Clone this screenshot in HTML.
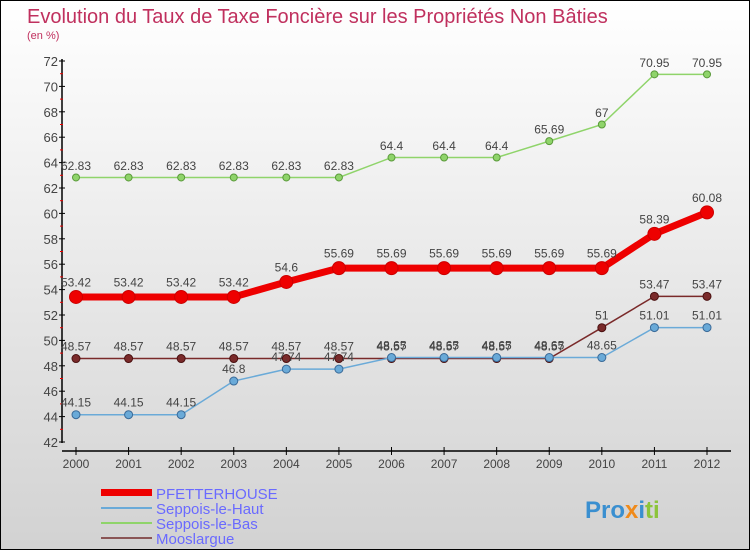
<!DOCTYPE html>
<html><head><meta charset="utf-8"><style>
body{margin:0}
#c{width:748px;height:548px;border:1px solid #000;background:linear-gradient(#ffffff,#d2d2d2);position:relative;font-family:"Liberation Sans",sans-serif;overflow:hidden}
</style></head><body>
<div id="c">
<svg id="s" width="748" height="548" xmlns="http://www.w3.org/2000/svg">
<text x="26" y="22" font-size="20" fill="#c0305e">Evolution du Taux de Taxe Foncière sur les Propriétés Non Bâties</text>
<text x="26" y="38" font-size="11" fill="#c0305e">(en %)</text>
<g id="g"></g>
<g>
<rect x="100" y="488" width="51" height="7" fill="#e00"/>
<text x="155" y="498" font-size="15" fill="#6a6aff">PFETTERHOUSE</text>
<rect x="100" y="506" width="51" height="2" fill="#6aaad8"/>
<text x="155" y="513" font-size="15" fill="#6a6aff">Seppois-le-Haut</text>
<rect x="100" y="521" width="51" height="2" fill="#8fd46a"/>
<text x="155" y="528" font-size="15" fill="#6a6aff">Seppois-le-Bas</text>
<rect x="100" y="536" width="51" height="2" fill="#8a5555"/>
<text x="155" y="543" font-size="15" fill="#6a6aff">Mooslargue</text>
</g>
<text x="584" y="517" font-size="24" font-weight="bold"><tspan fill="#3a8fd0">Pro</tspan><tspan fill="#f08a1a">x</tspan><tspan fill="#3a8fd0">i</tspan><tspan fill="#8cc43a">ti</tspan></text>
</svg>
</div>
<script>
const years=[2000,2001,2002,2003,2004,2005,2006,2007,2008,2009,2010,2011,2012];
const yTicks=[42,44,46,48,50,52,54,56,58,60,62,64,66,68,70,72];
const pfetterhouse=[53.42,53.42,53.42,53.42,54.6,55.69,55.69,55.69,55.69,55.69,55.69,58.39,60.08];
const seppoisHaut=[44.15,44.15,44.15,46.8,47.74,47.74,48.65,48.65,48.65,48.65,48.65,51.01,51.01];
const seppoisBas=[62.83,62.83,62.83,62.83,62.83,62.83,64.4,64.4,64.4,65.69,67,70.95,70.95];
const mooslargue=[48.57,48.57,48.57,48.57,48.57,48.57,48.57,48.57,48.57,48.57,51,53.47,53.47];
const NS="http://www.w3.org/2000/svg";
const g=document.getElementById('g');
const X=i=>75+i*(706-75)/(years.length-1);
const Y=v=>441-(v-42)*(441-60)/30;
function el(t,a,n,inter){const e=document.createElementNS(NS,t);for(const k in a)e.setAttribute(k,a[k]);


g.appendChild(e);return e;}
el('line',{x1:61,y1:58,x2:61,y2:442,stroke:'#000','stroke-width':1.5},'y-axis');
el('line',{x1:61,y1:450,x2:730,y2:450,stroke:'#000','stroke-width':1.5},'x-axis');
yTicks.forEach(v=>{const y=Y(v);
el('line',{x1:58,y1:y,x2:64,y2:y,stroke:'#000'},'y-tick');
if(v<72)el('line',{x1:59,y1:Y(v+1),x2:62,y2:Y(v+1),stroke:'#e00'},'y-minor-tick');
const t=el('text',{x:57,y:y+5,'font-size':13,fill:'#444','text-anchor':'end'},'y-tick-label');t.textContent=v;});
years.forEach((yr,i)=>{const x=X(i);
el('line',{x1:x,y1:446,x2:x,y2:454,stroke:'#000'},'x-tick');
const t=el('text',{x:x,y:467,'font-size':12,fill:'#444','text-anchor':'middle'},'x-tick-label');t.textContent=yr;});
function series(d,col,dark,w,r,name){
el('polyline',{points:d.map((v,i)=>X(i)+','+Y(v)).join(' '),fill:'none',stroke:col,'stroke-width':w},name+'-line');
d.forEach((v,i)=>{el('circle',{cx:X(i),cy:Y(v),r:r,fill:col,stroke:dark,'stroke-width':1},name+'-point');
const t=el('text',{x:X(i),y:Y(v)-r-4,'font-size':12,fill:'#444','text-anchor':'middle'},name+'-value-label');t.textContent=v;});}
series(seppoisBas,'#8fd46a','#5a9a3a',1.5,3.5,'seppois-le-bas');
series(mooslargue,'#7a2a2a','#4a1010',1.5,4,'mooslargue');
series(seppoisHaut,'#6aaad8','#3a6a98',1.5,4,'seppois-le-haut');
series(pfetterhouse,'#ee0000','#c00',7,6.5,'pfetterhouse');
</script>
</body></html>
